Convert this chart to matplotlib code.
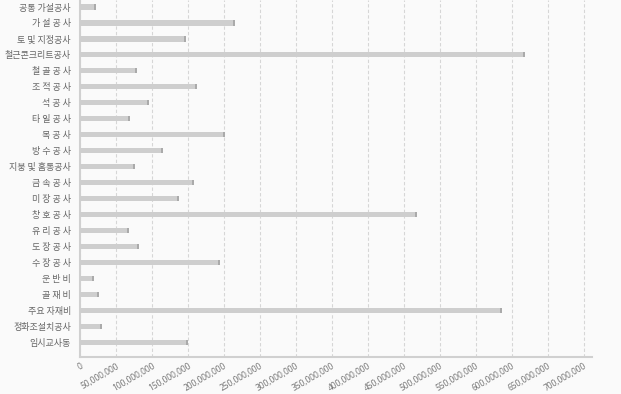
import numpy as np
import matplotlib.pyplot as plt
from matplotlib.ticker import FuncFormatter, MultipleLocator

plt.switch_backend("Agg")
plt.rcParams["font.family"] = ["Noto Sans CJK KR", "DejaVu Sans"]

categories = [
    "공통 가설공사", "가 설 공 사", "토 및 지정공사", "철근콘크리트공사",
    "철 골 공 사", "조 적 공 사", "석 공 사", "타 일 공 사", "목 공 사",
    "방 수 공 사", "지붕 및 홈통공사", "금 속 공 사", "미 장 공 사",
    "창 호 공 사", "유 리 공 사", "도 장 공 사", "수 장 공 사",
    "운 반 비", "골 재 비", "주요 자재비", "정화조설치공사", "임시교사동",
]
values = [
    22e6, 215e6, 147e6, 618e6,
    79e6, 162e6, 96e6, 69e6, 201e6,
    115e6, 77e6, 159e6, 138e6,
    468e6, 68e6, 82e6, 194e6,
    20e6, 27e6, 586e6, 31e6, 150e6,
]

bg = "#fafafa"
fig = plt.figure(figsize=(6.21, 3.94), dpi=100, facecolor=bg)
ax = fig.add_axes([80 / 621, 37 / 394, 511.7 / 621, 357 / 394], facecolor=bg)

y = np.arange(len(categories))
vals = np.array(values)
cap = 2.8e6
ax.barh(y, vals, height=0.32, color="#cecece", zorder=3)
ax.barh(y, np.full(len(vals), cap), left=vals - cap, height=0.32,
        color="#aaaaaa", zorder=4)

ax.set_yticks(y)
ax.set_yticklabels(categories, fontsize=6.5, color="#666666")
ax.set_ylim(21.92, -0.44)
ax.set_xlim(0, 711e6)
ax.xaxis.set_major_locator(MultipleLocator(50e6))
ax.xaxis.set_major_formatter(FuncFormatter(lambda v, p: f"{v:,.0f}"))
ax.tick_params(axis="x", labelsize=6.0, labelcolor="#777777", length=0, pad=3.5)
ax.tick_params(axis="y", length=0, pad=6.5)
plt.setp(ax.get_xticklabels(), rotation=30, ha="right", rotation_mode="anchor",
         family=["Noto Sans", "DejaVu Sans"])

ax.grid(axis="x", color="#d6d6d6", linestyle=(0, (3, 2)), linewidth=0.8, zorder=0)
for s in ["top", "right"]:
    ax.spines[s].set_visible(False)
for s in ["left", "bottom"]:
    ax.spines[s].set_color("#d0d0d0")
    ax.spines[s].set_linewidth(1.5)

fig.savefig("out.png", dpi=100, facecolor=bg)
